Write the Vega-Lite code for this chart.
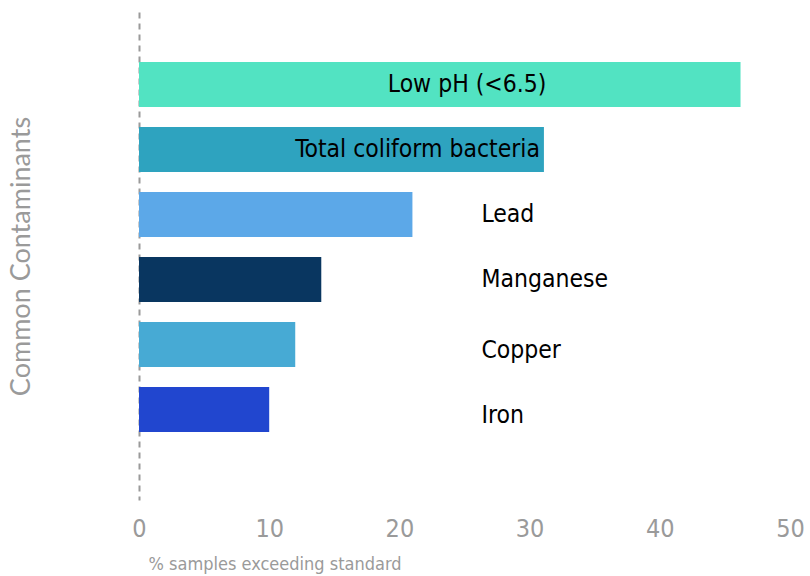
{
  "$schema": "https://vega.github.io/schema/vega-lite/v6.json",
  "width": 651,
  "height": 488,
  "autosize": {"type": "none"},
  "padding": {"left": 139, "top": 12, "right": 20, "bottom": 76},
  "background": "white",
  "config": {"view": {"stroke": null}},
  "data": {
    "values": [
      {"contaminant": "Low pH (<6.5)", "pct": 46.2},
      {"contaminant": "Total coliform bacteria", "pct": 31.1},
      {"contaminant": "Lead", "pct": 21.0},
      {"contaminant": "Manganese", "pct": 14.0},
      {"contaminant": "Copper", "pct": 12.0},
      {"contaminant": "Iron", "pct": 10.0}
    ]
  },
  "encoding": {
    "y": {
      "field": "contaminant",
      "type": "nominal",
      "sort": null,
      "scale": {"paddingInner": 0.3077, "paddingOuter": 0.908, "align": 0.424},
      "axis": {
        "title": "Common Contaminants",
        "labels": false,
        "ticks": false,
        "domainDash": [6, 5],
        "domainColor": "#9a9a9a",
        "domainWidth": 2,
        "titleFont": "Lato",
        "titleFontSize": 27,
        "titleFontWeight": "normal",
        "titleColor": "#9a9a9a",
        "titlePadding": 104
      }
    }
  },
  "layer": [
    {
      "mark": {"type": "bar"},
      "encoding": {
        "x": {
          "field": "pct",
          "type": "quantitative",
          "scale": {"domain": [0, 50], "nice": false},
          "axis": {
            "title": "% samples exceeding standard",
            "values": [0, 10, 20, 30, 40, 50],
            "grid": false,
            "domain": false,
            "ticks": false,
            "labelFont": "DejaVu Sans Condensed",
            "labelFontSize": 25,
            "labelColor": "#9a9a9a",
            "labelPadding": 16,
            "labelFlush": false,
            "titleFont": "DejaVu Sans Condensed",
            "titleFontSize": 18,
            "titleFontWeight": "normal",
            "titleColor": "#9a9a9a",
            "titleAnchor": "start",
            "titleAlign": "left",
            "titleX": 9,
            "titlePadding": 14
          }
        },
        "color": {
          "field": "contaminant",
          "type": "nominal",
          "legend": null,
          "scale": {
            "domain": ["Low pH (<6.5)", "Total coliform bacteria", "Lead", "Manganese", "Copper", "Iron"],
            "range": ["#52e3c2", "#2ea3bf", "#5ca8e8", "#093660", "#47aad4", "#2146cf"]
          }
        }
      }
    },
    {
      "transform": [{"filter": "datum.contaminant === 'Low pH (<6.5)'"}],
      "mark": {"type": "text", "align": "center", "baseline": "middle", "font": "DejaVu Sans Condensed", "fontSize": 24.5, "color": "black"},
      "encoding": {
        "x": {"datum": 25.2, "type": "quantitative"},
        "text": {"field": "contaminant"}
      }
    },
    {
      "transform": [{"filter": "datum.contaminant === 'Total coliform bacteria'"}],
      "mark": {"type": "text", "align": "right", "baseline": "middle", "dx": -4, "font": "DejaVu Sans Condensed", "fontSize": 24.5, "color": "black"},
      "encoding": {
        "x": {"field": "pct", "type": "quantitative"},
        "text": {"field": "contaminant"}
      }
    },
    {
      "transform": [{"filter": "indexof(['Lead','Manganese'], datum.contaminant) >= 0"}],
      "mark": {"type": "text", "align": "left", "baseline": "middle", "font": "DejaVu Sans Condensed", "fontSize": 24.5, "color": "black"},
      "encoding": {
        "x": {"datum": 26.3, "type": "quantitative"},
        "text": {"field": "contaminant"}
      }
    },
    {
      "transform": [{"filter": "indexof(['Copper','Iron'], datum.contaminant) >= 0"}],
      "mark": {"type": "text", "align": "left", "baseline": "middle", "dy": 6, "font": "DejaVu Sans Condensed", "fontSize": 24.5, "color": "black"},
      "encoding": {
        "x": {"datum": 26.3, "type": "quantitative"},
        "text": {"field": "contaminant"}
      }
    }
  ]
}
